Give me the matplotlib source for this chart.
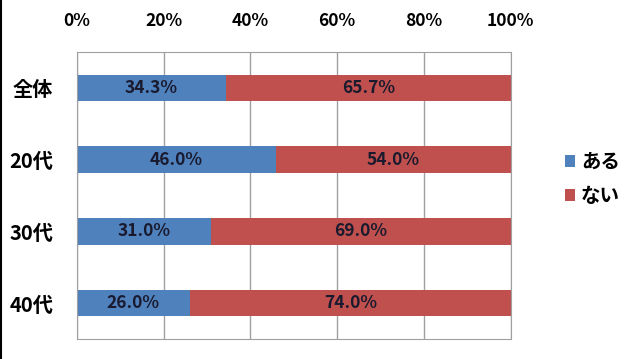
import matplotlib.pyplot as plt
from matplotlib.lines import Line2D

plt.rcParams['font.family'] = ['Noto Sans CJK JP', 'DejaVu Sans']

# データ
categories = ['全体', '20代', '30代', '40代']
aru = [34.3, 46.0, 31.0, 26.0]
nai = [65.7, 54.0, 69.0, 74.0]
xticks = [0, 20, 40, 60, 80, 100]
xtick_labels = ['0%', '20%', '40%', '60%', '80%', '100%']

blue = '#4F81BD'
red = '#C0504D'

fig = plt.figure(figsize=(6.4, 3.59), dpi=100)
ax = fig.add_axes([0.120, 0.056, 0.678, 0.799])

y = list(range(len(categories)))
b1 = ax.barh(y, aru, height=0.37, color=blue, label='ある', zorder=2)
b2 = ax.barh(y, nai, left=aru, height=0.37, color=red, label='ない', zorder=2)

for i in y:
    ax.text(aru[i] / 2, i, f'{aru[i]:.1f}%', ha='center', va='center',
            fontsize=12.5, fontweight='bold', color='#1a1a2e', zorder=3)
    ax.text(aru[i] + nai[i] / 2, i, f'{nai[i]:.1f}%', ha='center', va='center',
            fontsize=12.5, fontweight='bold', color='#1a1a2e', zorder=3)

ax.set_xlim(0, 100)
ax.set_ylim(3.5, -0.5)
ax.set_yticks(y)
ax.set_yticklabels(categories, fontsize=14.5, fontweight='bold')
ax.set_xticks(xticks)
ax.set_xticklabels(xtick_labels, fontsize=12.5, fontweight='bold')
ax.xaxis.tick_top()
ax.tick_params(axis='x', length=0, pad=16)
ax.tick_params(axis='y', length=0, pad=17)
ax.grid(axis='x', color='#a0a0a0', linewidth=1, zorder=0)
for s in ax.spines.values():
    s.set_color('#a0a0a0')

leg = fig.legend(handles=[b1, b2], loc='center left', bbox_to_anchor=(0.855, 0.50),
                 frameon=False, prop={'size': 14, 'weight': 'bold'},
                 handlelength=0.55, handleheight=0.55, handletextpad=0.3,
                 labelspacing=0.75)

# 左端の枠線
fig.add_artist(Line2D([0.001, 0.001], [0, 1], color='black', linewidth=1.5))

fig.savefig('out.png', dpi=100)
